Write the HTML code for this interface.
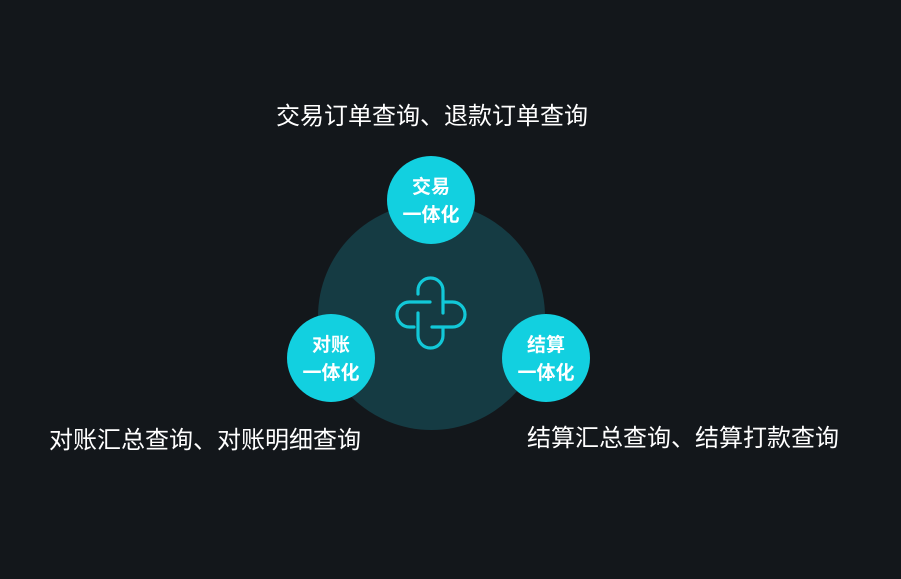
<!DOCTYPE html>
<html><head><meta charset="utf-8"><style>
body{margin:0;width:901px;height:579px;background:#13171b;overflow:hidden;position:relative;font-family:"Liberation Sans","Noto Sans CJK SC",sans-serif}
.t{position:absolute;color:#fff;font-size:24px;line-height:28px;white-space:nowrap}
.c{position:absolute;width:88px;height:88px;border-radius:50%;background:#12d0e0;color:#fff;font-weight:bold;font-size:19px;line-height:28px;text-align:center;display:flex;align-items:center;justify-content:center;box-sizing:border-box;padding-top:3px}
</style></head><body>
<div style="position:absolute;left:318px;top:203px;width:227px;height:227px;border-radius:50%;background:#153b43"></div>
<svg style="position:absolute;left:0;top:0" width="901" height="579" fill="none" stroke="#12c8d8" stroke-width="3.2" stroke-linecap="round">
<path d="M418 294 V290.5 A12.5 12.5 0 0 1 443 290.5 V313"/>
<path d="M443 302 H452.5 A12.5 12.5 0 0 1 452.5 327 H432"/>
<path d="M443 328 V335.5 A12.5 12.5 0 0 1 418 335.5 V313"/>
<path d="M430 302 H409.5 A12.5 12.5 0 0 0 409.5 327 H414"/>
</svg>
<div class="c" style="left:387px;top:156px">交易<br>一体化</div>
<div class="c" style="left:287px;top:314px">对账<br>一体化</div>
<div class="c" style="left:502px;top:314px">结算<br>一体化</div>
<div class="t" style="left:276px;top:103px">交易订单查询、退款订单查询</div>
<div class="t" style="left:49px;top:427px">对账汇总查询、对账明细查询</div>
<div class="t" style="left:527px;top:425px">结算汇总查询、结算打款查询</div>
</body></html>
